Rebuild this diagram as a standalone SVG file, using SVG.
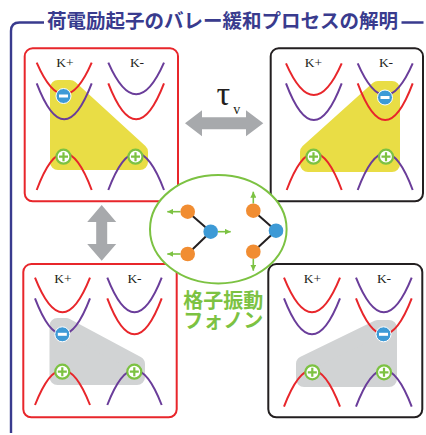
<svg xmlns="http://www.w3.org/2000/svg" width="426" height="435" viewBox="0 0 426 435">
  <style>
    .frame-r { fill: #fff; stroke: #e8262b; stroke-width: 2; }
    .frame-k { fill: #fff; stroke: #231f20; stroke-width: 2; }
    .r { fill: none; stroke: #e8262b; stroke-width: 2; }
    .p { fill: none; stroke: #6a3d9a; stroke-width: 2; }
    .yel { fill: #e9dd45; stroke: #e9dd45; stroke-width: 16; stroke-linejoin: round; }
    .gry { fill: #d1d3d4; stroke: #d1d3d4; stroke-width: 16; stroke-linejoin: round; }
    .k { font-family: "Liberation Serif", "Times New Roman", serif; font-size: 13.5px; fill: #231f20; text-anchor: middle; }
    .bond { stroke: #231f20; stroke-width: 2; }
    .mv { stroke: #7cc242; stroke-width: 1.6; marker-end: url(#ah); }
    .jp { font-family: "Noto Sans CJK JP", "Noto Sans", sans-serif; font-weight: bold; }
  </style>
  <defs>
    <marker id="ah" viewBox="0 0 6 6" refX="6" refY="3" markerWidth="6" markerHeight="6" markerUnits="userSpaceOnUse" orient="auto">
      <path d="M0,0 L6,3 L0,6 z" fill="#7cc242"/>
    </marker>
    <g id="el">
      <circle r="7.5" fill="#3d9ad6" stroke="#fff" stroke-width="1"/>
      <rect x="-4.5" y="-1.5" width="9" height="3" fill="#fff"/>
    </g>
    <g id="ho">
      <circle r="7" fill="#fff" stroke="#7cc242" stroke-width="2.2"/>
      <path d="M-4.5,0H4.5M0,-4.5V4.5" stroke="#7cc242" stroke-width="2.2"/>
    </g>
  </defs>

  <!-- heading with bracket -->
  <g id="title">
    <path d="M11,433 V31 Q11,22.5 19.5,22.5 H44 M401.5,22.5 H423.5" fill="none" stroke="#393b8e" stroke-width="2.4"/>
    <text x="222.4" y="28" class="jp" font-size="19.5" fill="#393b8e" text-anchor="middle" textLength="351" lengthAdjust="spacingAndGlyphs">荷電励起子のバレー緩和プロセスの解明</text>
  </g>

  <!-- top-left: bright exciton, electron in K+ -->
  <g id="state-tl">
    <rect class="frame-r" x="24.7" y="48.3" width="153.3" height="153" rx="8"/>
    <polygon class="yel" points="58,88 70,88 140,152 140,162 58,162"/>
    <text class="k" x="65" y="67">K+</text>
    <text class="k" x="137" y="67">K-</text>
    <path class="r" d="M36.7,62.7 Q64.2,126 91.7,62.7"/>
    <path class="p" d="M36.7,83.3 Q64.2,155.3 91.7,83.3"/>
    <path class="p" d="M108.3,62.7 Q136.2,126 164,62.7"/>
    <path class="r" d="M108.3,83.3 Q136.2,155.3 164,83.3"/>
    <path class="r" d="M36.7,190 Q64.2,116.6 91.7,190"/>
    <path class="p" d="M108.3,190 Q136.2,116.6 164,190"/>
    <use href="#el" x="63.5" y="96"/>
    <use href="#ho" x="63.5" y="156.7"/>
    <use href="#ho" x="135.5" y="156.7"/>
  </g>

  <!-- top-right: bright exciton, electron in K- -->
  <g id="state-tr">
    <rect class="frame-k" x="270.7" y="48.3" width="152.3" height="153" rx="8"/>
    <polygon class="yel" points="378,89 392,89 392,164 308,164 308,152"/>
    <text class="k" x="313.5" y="67">K+</text>
    <text class="k" x="386" y="67">K-</text>
    <path class="r" d="M286,63.3 Q313.8,126.7 341.7,63.3"/>
    <path class="p" d="M286,83.3 Q313.8,156.7 341.7,83.3"/>
    <path class="p" d="M357.7,63.3 Q385.2,126.7 412.7,63.3"/>
    <path class="r" d="M357.7,83.3 Q385.2,156.7 412.7,83.3"/>
    <path class="r" d="M286.7,190 Q314.2,116.6 341.7,190"/>
    <path class="p" d="M357.7,190 Q385.2,116.6 412.7,190"/>
    <use href="#el" x="385" y="97.5"/>
    <use href="#ho" x="313.5" y="156.7"/>
    <use href="#ho" x="386" y="156.7"/>
  </g>

  <!-- bottom-left: dark exciton, electron in K+ lower band -->
  <g id="state-bl">
    <rect class="frame-r" x="23.3" y="264" width="153.4" height="153.3" rx="8"/>
    <polygon class="gry" points="57.5,326 66,326 137,364 137,377 57.5,377"/>
    <text class="k" x="63" y="283.3">K+</text>
    <text class="k" x="134.5" y="283.3">K-</text>
    <path class="r" d="M35,277.7 Q62.5,347 90,277.7"/>
    <path class="p" d="M35,298.3 Q62.5,370.3 90,298.3"/>
    <path class="p" d="M107.3,277.7 Q134.5,347 161.7,277.7"/>
    <path class="r" d="M107.3,298.3 Q134.5,370.3 161.7,298.3"/>
    <path class="r" d="M35,405 Q62.5,335 90,405"/>
    <path class="p" d="M107.3,405 Q134.5,335 161.7,405"/>
    <use href="#el" x="62.3" y="334.3"/>
    <use href="#ho" x="62.3" y="371.7"/>
    <use href="#ho" x="134.3" y="371.7"/>
  </g>

  <!-- bottom-right: dark exciton, electron in K- lower band -->
  <g id="state-br">
    <rect class="frame-k" x="268.3" y="264" width="154" height="153.3" rx="8"/>
    <polygon class="gry" points="378,328 389,328 389,379 304,379 304,364"/>
    <text class="k" x="312.5" y="283.3">K+</text>
    <text class="k" x="384" y="283.3">K-</text>
    <path class="r" d="M284,277.7 Q312,347 340,277.7"/>
    <path class="p" d="M284,298.3 Q312,370.3 340,298.3"/>
    <path class="p" d="M356,277.7 Q383.8,347 411.7,277.7"/>
    <path class="r" d="M356,298.3 Q383.8,370.3 411.7,298.3"/>
    <path class="r" d="M284,406.7 Q312,333.3 340,406.7"/>
    <path class="p" d="M356,406.7 Q383.8,333.3 411.7,406.7"/>
    <use href="#el" x="383.5" y="334.3"/>
    <use href="#ho" x="312.3" y="372.3"/>
    <use href="#ho" x="384" y="372.3"/>
  </g>

  <!-- transitions between states -->
  <g id="connectors">
    <polygon points="185,123.3 202,110.3 202,117.3 246,117.3 246,110.3 263.3,123.3 246,136.3 246,129.3 202,129.3 202,136.3" fill="#a7a9ac"/>
    <polygon points="101.7,205 116.2,222 107.2,222 107.2,244 116.2,244 101.7,260.7 87.2,244 96.2,244 96.2,222 87.2,222" fill="#a7a9ac"/>
  </g>

  <!-- valley relaxation time label -->
  <g id="tau-label" font-family="Liberation Serif, Times New Roman, serif" fill="#231f20">
    <text x="223.3" y="105" font-size="34" text-anchor="middle">τ</text>
    <text x="236.8" y="114" font-size="14" text-anchor="middle">v</text>
  </g>

  <!-- lattice vibration (phonon) -->
  <g id="phonon">
    <ellipse cx="218.3" cy="229.2" rx="68.3" ry="54.2" fill="#fff" stroke="#7cc242" stroke-width="2"/>
    <line class="bond" x1="187.7" y1="211.7" x2="210.7" y2="231.7"/>
    <line class="bond" x1="187.7" y1="254" x2="210.7" y2="231.7"/>
    <line class="bond" x1="253.3" y1="210.7" x2="276" y2="230.7"/>
    <line class="bond" x1="253.3" y1="251.7" x2="276" y2="230.7"/>
    <line class="mv" x1="180.5" y1="211.7" x2="167.3" y2="211.7"/>
    <line class="mv" x1="180.5" y1="254" x2="167.3" y2="254"/>
    <line class="mv" x1="218" y1="231.7" x2="230.7" y2="231.7"/>
    <line class="mv" x1="253.3" y1="203.5" x2="253.3" y2="191.7"/>
    <line class="mv" x1="253.3" y1="259" x2="253.3" y2="270.7"/>
    <circle cx="187.7" cy="211.7" r="7.3" fill="#f18d32"/>
    <circle cx="187.7" cy="254" r="7.3" fill="#f18d32"/>
    <circle cx="210.7" cy="231.7" r="7.3" fill="#3d9ad6"/>
    <circle cx="253.3" cy="210.7" r="7.3" fill="#f18d32"/>
    <circle cx="253.3" cy="251.7" r="7.3" fill="#f18d32"/>
    <circle cx="276" cy="230.7" r="7.3" fill="#3d9ad6"/>
    <text class="jp" font-size="20" fill="#7cc242" text-anchor="middle"><tspan x="223.3" y="307.5">格子振動</tspan><tspan x="223.3" y="327.5">フォノン</tspan></text>
  </g>
</svg>
